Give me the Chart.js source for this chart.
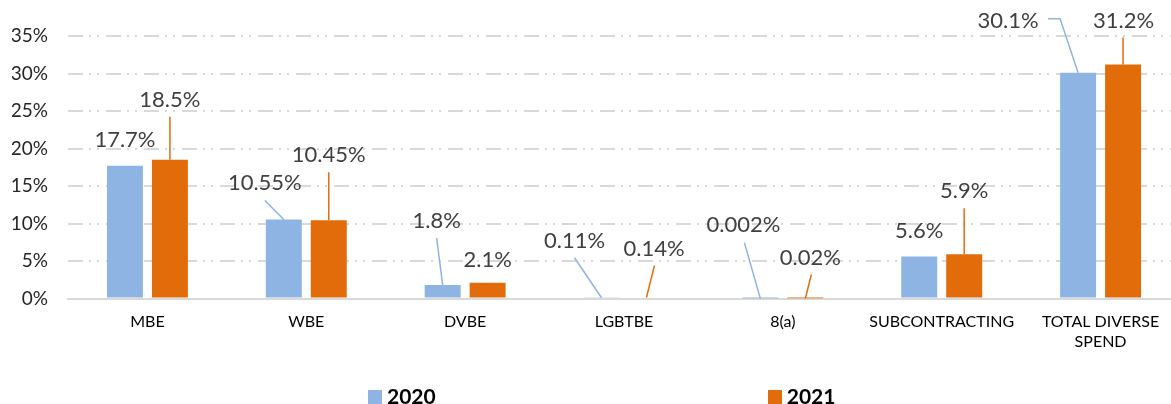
<!DOCTYPE html>
<html>
<head>
<meta charset="utf-8">
<script src="https://cdn.jsdelivr.net/npm/chart.js@4.4.1/dist/chart.umd.min.js"></script>
<style>
  html, body { margin: 0; padding: 0; background: #fff; overflow: hidden; }
  #wrap { position: relative; width: 1171px; height: 404px; overflow: hidden; }
  #box { position: absolute; left: 0; top: 0; width: 1185px; height: 404px; }
  #legend { position: absolute; left: 368px; top: 385px; display: flex; gap: 332px;
            font: bold 21px Lato, sans-serif; color: #000; }
  #legend .item { display: flex; align-items: center; line-height: 21px; }
  #legend .sw { width: 14px; height: 14px; margin-right: 5px; margin-top: 2px; }
</style>
</head>
<body>
<div id="wrap">
  <div id="box"><canvas id="grafico"></canvas></div>
  <div id="legend"></div>
</div>
<script>
// dados
const categorias = ['MBE', 'WBE', 'DVBE', 'LGBTBE', '8(a)', 'SUBCONTRACTING', ['TOTAL DIVERSE', 'SPEND']];
const series = ['2020', '2021'];
const valores2020 = [17.7, 10.55, 1.8, 0.11, 0.002, 5.6, 30.1];
const valores2021 = [18.5, 10.45, 2.1, 0.14, 0.02, 5.9, 31.2];
const rotulos2020 = ['17.7%', '10.55%', '1.8%', '0.11%', '0.002%', '5.6%', '30.1%'];
const rotulos2021 = ['18.5%', '10.45%', '2.1%', '0.14%', '0.02%', '5.9%', '31.2%'];
const ticksY = [0, 5, 10, 15, 20, 25, 30, 35];

const cores = ['#8EB4E3', '#E36C0A'];

// posição dos rótulos (deslocamento em relação ao topo da barra) e linhas de chamada
const posRotulos = [
    [[0, -26], [-19, -37], [-6, -64], [-27, -57], [-17, -74], [0, -26], [-70, -52]],
    [[0, -60], [0, -65], [0, -23], [7.5, -49], [5, -41], [0, -63], [0.6, -44]]
];
const linhas = [
    [null, [[-19, -19]], [[-6, -47]], [[-27, -40]], [[-16, -56]], null, [[-30, -54], [-18, -54]]],
    [[[0, -43]], [[0, -48]], null, [[8, -32]], [[6, -24]], [[0, -46]], [[0, -27]]]
];

const rotulosPlugin = {
    id: 'rotulos',
    afterDatasetsDraw(chart) {
        const c = chart.ctx;
        const textos = [rotulos2020, rotulos2021];
        chart.data.datasets.forEach((ds, i) => {
            const meta = chart.getDatasetMeta(i);
            meta.data.forEach((bar, j) => {
                const bx = bar.x, by = bar.y;
                const pts = linhas[i][j];
                if (pts) {
                    c.save();
                    c.strokeStyle = cores[i];
                    c.lineWidth = 1.5;
                    c.beginPath();
                    c.moveTo(bx + pts[0][0], by + pts[0][1]);
                    for (let k = 1; k < pts.length; k++) c.lineTo(bx + pts[k][0], by + pts[k][1]);
                    c.lineTo(bx, by);
                    c.stroke();
                    c.restore();
                }
                const p = posRotulos[i][j];
                c.save();
                c.font = '22px Lato, sans-serif';
                c.fillStyle = '#404040';
                c.textAlign = 'center';
                c.textBaseline = 'middle';
                c.fillText(textos[i][j], bx + p[0], by + p[1]);
                c.restore();
            });
        });
    }
};

const ctx = document.getElementById('grafico').getContext('2d');
const chart = new Chart(ctx, {
    type: 'bar',
    data: {
        labels: categorias,
        datasets: [
            { label: series[0], data: valores2020, backgroundColor: cores[0] },
            { label: series[1], data: valores2021, backgroundColor: cores[1] }
        ]
    },
    options: {
        responsive: true,
        maintainAspectRatio: false,
        animation: false,
        categoryPercentage: 0.566,
        barPercentage: 0.8,
        layout: { padding: { left: 12, right: 5, top: 36, bottom: 39 } },
        plugins: {
            legend: { display: false },
            tooltip: { enabled: false }
        },
        scales: {
            x: {
                grid: { display: false, drawTicks: false },
                border: { color: '#d9d9d9', width: 2 },
                ticks: { color: '#000', padding: 14, font: { family: 'Lato', size: 16 }, maxRotation: 0, autoSkip: false }
            },
            y: {
                min: 0,
                max: 35,
                afterBuildTicks: (scale) => { scale.ticks = ticksY.map(v => ({ value: v })); },
                afterFit: (scale) => { scale.width = 56; },
                grid: { color: '#d9d9d9', lineWidth: 2, drawTicks: false },
                border: { display: false, dash: [15, 6, 2, 6, 2, 7] },
                ticks: {
                    color: '#262626', padding: 20,
                    font: { family: 'Lato', size: 19 },
                    callback: (v) => v + '%'
                }
            }
        }
    },
    plugins: [rotulosPlugin]
});

// legenda em HTML
const legenda = document.getElementById('legend');
chart.data.datasets.forEach((ds) => {
    const item = document.createElement('div');
    item.className = 'item';
    item.innerHTML = '<span class="sw" style="background:' + ds.backgroundColor + '"></span>' + ds.label;
    legenda.appendChild(item);
});
</script>
</body>
</html>
